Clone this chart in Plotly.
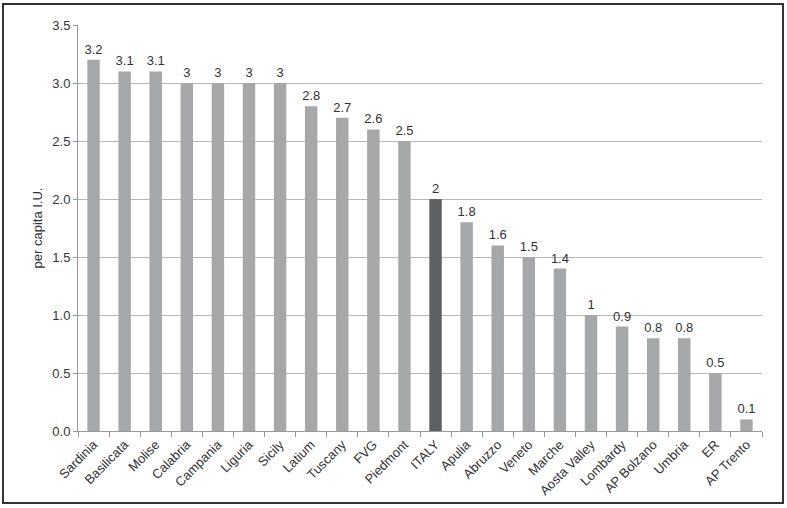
import plotly.graph_objects as go

regions = ["Sardinia", "Basilicata", "Molise", "Calabria", "Campania", "Liguria", "Sicily",
           "Latium", "Tuscany", "FVG", "Piedmont", "ITALY", "Apulia", "Abruzzo", "Veneto",
           "Marche", "Aosta Valley", "Lombardy", "AP Bolzano", "Umbria", "ER", "AP Trento"]
per_capita = [3.2, 3.1, 3.1, 3, 3, 3, 3, 2.8, 2.7, 2.6, 2.5, 2, 1.8, 1.6, 1.5,
              1.4, 1, 0.9, 0.8, 0.8, 0.5, 0.1]

# ITALY highlighted darker
colors = ["#5f6062" if r == "ITALY" else "#a6a7a9" for r in regions]

fig = go.Figure(go.Bar(
    x=regions, y=per_capita,
    marker=dict(color=colors, line=dict(width=0)),
    text=[f"{v:g}" for v in per_capita],
    textposition="outside",
    constraintext="none",
    textfont=dict(size=13, color="#333333"),
    cliponaxis=False,
))

L, R, T, B = 78, 25, 25, 77
pw, ph = 787 - L - R, 508 - T - B

fig.update_layout(
    width=787, height=508,
    margin=dict(l=L, r=R, t=T, b=B, autoexpand=False),
    paper_bgcolor="white", plot_bgcolor="white",
    font=dict(family="Liberation Sans, Arial, sans-serif", size=13, color="#333333"),
    bargap=0.6,
    showlegend=False,
    shapes=[dict(type="rect", xref="paper", yref="paper",
                 x0=(3 - L) / pw, x1=(783 - L) / pw,
                 y0=(T + ph - 503) / ph, y1=(T + ph - 4) / ph,
                 line=dict(color="#333333", width=2))],
)
fig.update_yaxes(
    range=[0, 3.5], dtick=0.5, tickformat=".1f",
    showgrid=True, gridcolor="#b8b8b8", gridwidth=1,
    showline=True, linecolor="#999999",
    ticks="outside", ticklen=4, tickcolor="#999999",
    title=dict(text="per capita I.U.", standoff=6, font=dict(size=13)),
    zeroline=False, automargin=False,
)
fig.update_xaxes(
    tickangle=-45, showline=True, linecolor="#999999",
    ticks="outside", tickson="boundaries", ticklen=5, tickcolor="#999999",
    showgrid=False, automargin=False,
)

# drop the default body margin so the figure fills the window
fig.write_html("out.html", config={"displayModeBar": False},
               post_script="document.body.style.margin='0';")
